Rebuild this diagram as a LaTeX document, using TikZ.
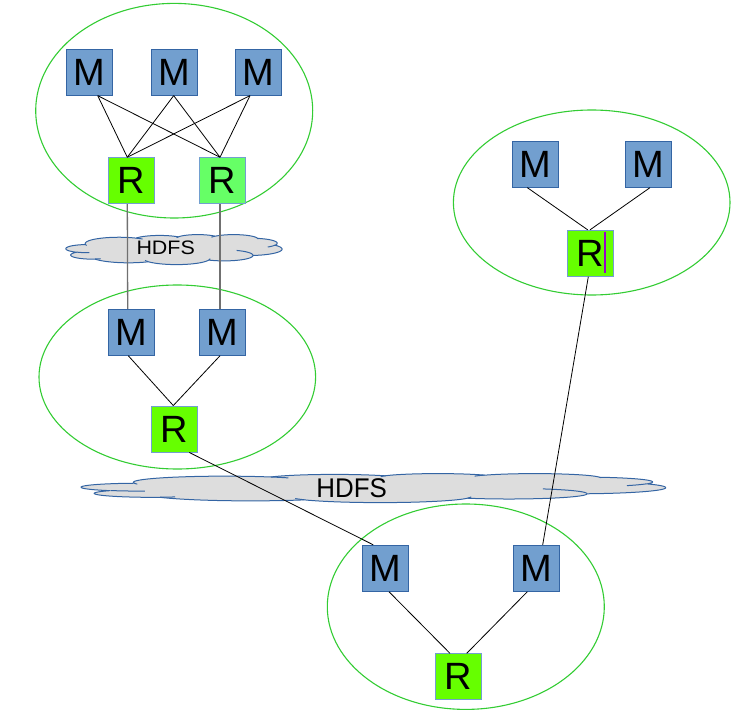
\documentclass[tikz,border=0pt]{standalone}
\usepackage{fontspec}
\setmainfont{Liberation Sans}
\definecolor{mfill}{HTML}{729FCF}
\definecolor{mdraw}{HTML}{3465A4}
\definecolor{rfillA}{HTML}{66FF00}
\definecolor{rfillB}{HTML}{66FF66}
\definecolor{rdraw}{HTML}{729FCF}
\definecolor{egreen}{HTML}{33CC33}
\definecolor{cfill}{HTML}{DDDDDD}
\definecolor{cdraw}{HTML}{3465A4}
\definecolor{vgray}{HTML}{707070}
\definecolor{cursorc}{HTML}{9900CC}
\newcommand\boxfont{\fontsize{38}{40}\selectfont}
\tikzset{
  mbox/.style={draw=mdraw, fill=mfill, line width=0.9pt, minimum size=46pt, inner sep=0pt, font=\boxfont},
  rbox/.style={draw=rdraw, fill=rfillA, line width=0.9pt, minimum size=46pt, inner sep=0pt, font=\boxfont},
  rboxb/.style={rbox, fill=rfillB},
  group/.style={draw=egreen, line width=1.1pt},
  link/.style={draw=black, line width=0.8pt},
  feed/.style={draw=vgray, line width=1.3pt},
  cloudshape/.style={fill=cfill, draw=cdraw, line width=1pt, line join=round},
  cloudinner/.style={draw=cdraw, line width=1pt},
}
% OOXML cloud outline (units of 1000 in a 43.2 x 43.2 frame)
\def\cloudouter{6.753/9.190/-190.4875/123.7805,5.333/7.267/-144.1024/89.9452,4.365/5.945/-145.8079/99.7230,4.857/6.595/-130.9861/117.2417,5.333/7.273/-78.7089/109.0269,6.775/9.220/-46.2673/130.2690,5.785/7.867/0.6250/114.0333,6.752/9.215/22.4516/115.1726,7.720/10.543/66.2426/75.7110,4.360/5.918/-274.9421/146.7356,4.345/5.945/-246.8285/152.5189}
\def\cloudinnerlist{4.693/26.177/4.345/5.945/86.742/26.4295,6.928/34.899/4.360/5.918/73.6105/11.4475,16.478/39.090/6.752/9.215/137.6242/14.0811,28.827/34.751/6.752/9.215/6.4533/15.9984,34.129/22.954/5.785/7.867/-70.2924/70.9174,41.798/15.354/5.333/7.273/30.3180/27.7515,38.324/5.426/4.857/6.595/-13.7443/14.8589,29.078/3.952/4.857/6.595/-149.1815/18.1954,22.141/4.720/4.365/5.945/-163.4943/17.6864,14.000/5.192/6.753/9.190/-66.7070/12.3194,4.127/15.789/6.753/9.190/157.6544/11.8582}
\newcommand\drawcloud[4]{%
  \pgfmathsetmacro\csx{#3/43.2}%
  \pgfmathsetmacro\csy{#4/43.2}%
  \filldraw[cloudshape] ({#1+3.9*\csx},{#2+14.37*\csy})
    \foreach \ccx/\ccy/\cwr/\chr/\tA/\tB in \outerarcs {
      -- plot[domain=\tA:\tB,samples=30] ({#1+(\ccx+\cwr*cos(\x))*\csx},{#2+(\ccy+\chr*sin(\x))*\csy})
    } -- cycle;
  \draw[cloudinner]
    \foreach \ccx/\ccy/\cwr/\chr/\tA/\tB in \innerarcs {
      plot[domain=\tA:\tB,samples=20] ({#1+(\ccx+\cwr*cos(\x))*\csx},{#2+(\ccy+\chr*sin(\x))*\csy})
    };
}
\begin{document}
\begin{tikzpicture}[x=1pt,y=-1pt]
\useasboundingbox (0,0) rectangle (736,714);
% ---- precompute cloud arcs
\gdef\outerarcs{}%
\gdef\curx{3.9}\gdef\cury{14.37}%
\foreach \cwr/\chr/\cst/\csw in \cloudouter {%
  \pgfmathsetmacro\tA{atan2(\cwr*sin(\cst),\chr*cos(\cst))}%
  \pgfmathsetmacro\tB{atan2(\cwr*sin(\cst+\csw),\chr*cos(\cst+\csw))}%
  \pgfmathsetmacro\tB{ifthenelse(\tB<\tA,\tB+360,\tB)}%
  \pgfmathsetmacro\ccx{\curx-\cwr*cos(\tA)}%
  \pgfmathsetmacro\ccy{\cury-\chr*sin(\tA)}%
  \pgfmathsetmacro\nx{\ccx+\cwr*cos(\tB)}%
  \pgfmathsetmacro\ny{\ccy+\chr*sin(\tB)}%
  \xdef\curx{\nx}\xdef\cury{\ny}%
  \ifx\outerarcs\empty\xdef\outerarcs{\ccx/\ccy/\cwr/\chr/\tA/\tB}%
  \else\xdef\outerarcs{\outerarcs,\ccx/\ccy/\cwr/\chr/\tA/\tB}\fi
}
\gdef\innerarcs{}%
\foreach \spx/\spy/\cwr/\chr/\cst/\csw in \cloudinnerlist {%
  \pgfmathsetmacro\tA{atan2(\cwr*sin(\cst),\chr*cos(\cst))}%
  \pgfmathsetmacro\tB{atan2(\cwr*sin(\cst+\csw),\chr*cos(\cst+\csw))}%
  \pgfmathsetmacro\tB{ifthenelse(\tB<\tA,\tB+360,\tB)}%
  \pgfmathsetmacro\ccx{\spx-\cwr*cos(\tA)}%
  \pgfmathsetmacro\ccy{\spy-\chr*sin(\tA)}%
  \ifx\innerarcs\empty\xdef\innerarcs{\ccx/\ccy/\cwr/\chr/\tA/\tB}%
  \else\xdef\innerarcs{\innerarcs,\ccx/\ccy/\cwr/\chr/\tA/\tB}\fi
}
% ---- groups
\draw[group] (174.2,110.7) ellipse [x radius=138.5pt, y radius=107.3pt];
\draw[group] (177.3,377) ellipse [x radius=138.3pt, y radius=92pt];
\draw[group] (591.7,202.5) ellipse [x radius=138.3pt, y radius=92.5pt];
\draw[group] (465.8,606.7) ellipse [x radius=138.5pt, y radius=102.7pt];
% ---- clouds
\drawcloud{66}{234.5}{216}{30}
\drawcloud{81.5}{473.5}{584}{29}
\node[font=\fontsize{19.5}{20}\selectfont] (hdfsA) at (165.7,248) {\scalebox{1.1}[1]{HDFS}};
\node[font=\fontsize{27}{28}\selectfont] (hdfsB) at (351.7,488.3) {\scalebox{0.96}[1]{HDFS}};
% ---- boxes
\node[mbox] (M1) at (89.3,72.2) {M};
\node[mbox] (M2) at (174,72.2) {M};
\node[mbox] (M3) at (258.8,72.2) {M};
\node[rbox] (R1) at (131.7,180.7) {R};
\node[rboxb] (R2) at (222.5,180.7) {R};
\node[mbox] (M4) at (131.7,332.3) {M};
\node[mbox] (M5) at (222.5,332.3) {M};
\node[rbox] (R3) at (174,429) {R};
\node[mbox] (M6) at (535,164.2) {M};
\node[mbox] (M7) at (648.7,164.2) {M};
\node[rbox] (R4) at (590,253.3) {R};
\node[mbox] (M8) at (385.8,568.3) {M};
\node[mbox] (M9) at (536.8,568.3) {M};
\node[rbox] (R5) at (458.5,676.8) {R};
% text cursor inside R4
\draw[cursorc, line width=1.6pt] ([xshift=15pt,yshift=-1.7pt]R4.north) -- ([xshift=15pt,yshift=3.4pt]R4.south);
% ---- connectors
\draw[link] ([xshift=8.4pt]M1.south) -- ([xshift=-4.4pt]R1.north);
\draw[link] ([xshift=8.4pt]M1.south) -- ([xshift=-2.5pt]R2.north);
\draw[link] ([xshift=-0.3pt]M2.south) -- ([xshift=-4.4pt]R1.north);
\draw[link] ([xshift=-0.3pt]M2.south) -- ([xshift=-2.5pt]R2.north);
\draw[link] ([xshift=-8.8pt]M3.south) -- ([xshift=-4.4pt]R1.north);
\draw[link] ([xshift=-8.8pt]M3.south) -- ([xshift=-2.5pt]R2.north);
\draw[feed] ([xshift=-4.4pt]R1.south) -- ([xshift=-4pt]M4.north);
\draw[feed] ([xshift=-2.5pt]R2.south) -- ([xshift=-2.5pt]M5.north);
\draw[link] ([xshift=-3.4pt]M4.south) -- ([xshift=-0.7pt]R3.north);
\draw[link] ([xshift=-2.5pt]M5.south) -- ([xshift=-0.7pt]R3.north);
\draw[link] ([xshift=15.3pt]R3.south) -- ([xshift=-12.5pt]M8.north);
\draw[link] ([xshift=-7.7pt]M6.south) -- ([xshift=-2.3pt]R4.north);
\draw[link] ([xshift=1.3pt]M7.south) -- (R4.north);
\draw[link] ([xshift=-1.7pt]R4.south) -- ([xshift=5.9pt]M9.north);
\draw[link] ([xshift=3.2pt]M8.south) -- ([xshift=-8.5pt]R5.north);
\draw[link] ([xshift=-9.5pt]M9.south) -- ([xshift=8.2pt]R5.north);
\end{tikzpicture}
\end{document}
